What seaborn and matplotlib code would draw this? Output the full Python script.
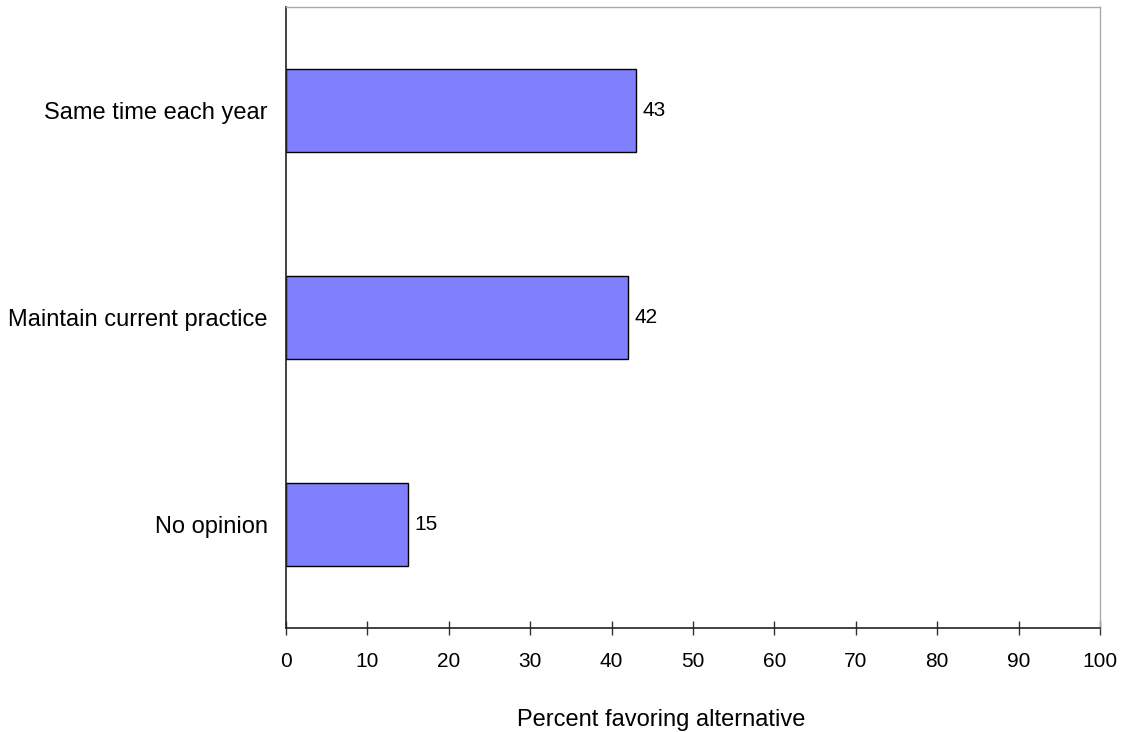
import matplotlib
matplotlib.use("Agg")
import matplotlib.pyplot as plt
import seaborn as sns
import pandas as pd

categories = ["Same time each year", "Maintain current practice", "No opinion"]
percent = [43, 42, 15]
x_ticks = [0, 10, 20, 30, 40, 50, 60, 70, 80, 90, 100]
x_title = "Percent favoring alternative"

sns.set_theme(style="white")
plt.rcParams["font.family"] = ["Liberation Sans", "DejaVu Sans"]

df = pd.DataFrame({"category": categories, "percent": percent})

fig = plt.figure(figsize=(11.24, 7.32), dpi=100)
ax = fig.add_axes([0.2544, 0.1421, 0.9786 - 0.2544, 0.9904 - 0.1421])

sns.barplot(data=df, x="percent", y="category", orient="h", color="#8080FF",
            saturation=1, width=0.4, edgecolor="black", linewidth=1, ax=ax)

for bar, val in zip(ax.patches, percent):
    ax.annotate(f"{val}", (bar.get_width(), bar.get_y() + bar.get_height() / 2),
                xytext=(4.5, 0), textcoords="offset points", va="center",
                ha="left", fontsize=15, color="black")

ax.set_xlim(0, 100)
ax.set_ylim(2.5, -0.5)
ax.set_xticks(x_ticks)
ax.set_xticklabels([str(t) for t in x_ticks], fontsize=15, color="black")
ax.tick_params(axis="x", direction="inout", length=10, width=1, color="#333333",
               pad=12, bottom=True)
ax.tick_params(axis="y", length=0, pad=13, labelsize=17, labelcolor="black")
ax.set_ylabel("")
ax.set_xlabel(x_title, fontsize=17, labelpad=28, color="black")
ax.xaxis.label.set_x(0.4607)

for side in ["left", "bottom"]:
    ax.spines[side].set_color("#222222")
    ax.spines[side].set_linewidth(1.2)
for side in ["top", "right"]:
    ax.spines[side].set_color("#aaaaaa")
    ax.spines[side].set_linewidth(1)

fig.savefig("out.png", dpi=100)
